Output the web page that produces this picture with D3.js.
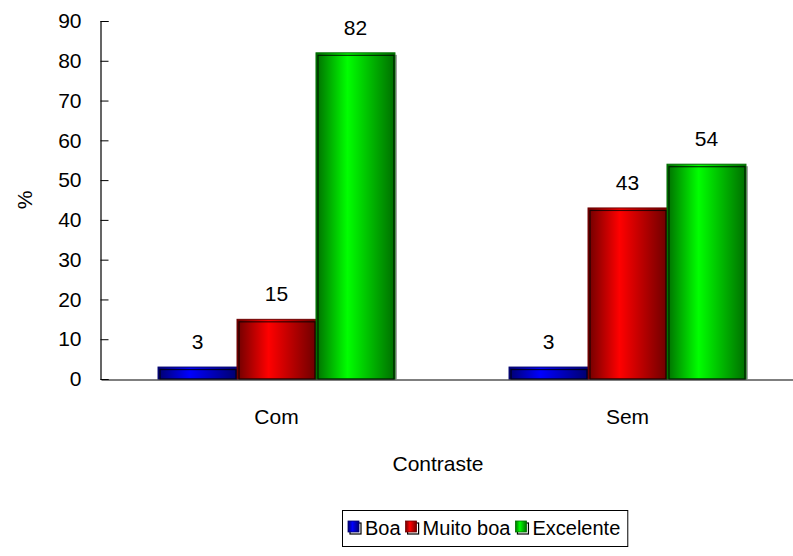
<!DOCTYPE html>
<html>
<head>
<meta charset="utf-8">
<script src="https://cdn.jsdelivr.net/npm/d3@7"></script>
<style>
  html, body { margin: 0; padding: 0; background: #fff; }
  svg { display: block; font-family: "Liberation Sans", Arial, sans-serif; }
</style>
</head>
<body>
<svg id="chart" width="793" height="556"></svg>
<script>
// Avaliação por contraste (%)
const categories = ["Com", "Sem"];
const seriesNames = ["Boa", "Muito boa", "Excelente"];
const boa = [3, 3];
const muitoBoa = [15, 43];
const excelente = [82, 54];
const yTicks = [0, 10, 20, 30, 40, 50, 60, 70, 80, 90];
const xTitle = "Contraste";
const yTitle = "%";

const seriesValues = [boa, muitoBoa, excelente];
const palette = [
  { dark: "#00006e", mid: "#0000ff", name: "blue" },
  { dark: "#6e0000", mid: "#ff0000", name: "red" },
  { dark: "#006e00", mid: "#00ff00", name: "green" }
];

const FS = 21;
const svg = d3.select("#chart");
const plot = { left: 101, right: 803, top: 21, bottom: 379 };

// Gradients giving each bar its rounded, lit look
const defs = svg.append("defs");
palette.forEach(p => {
  const g = defs.append("linearGradient")
    .attr("id", "grad-" + p.name)
    .attr("x1", "0%").attr("x2", "100%").attr("y1", "0%").attr("y2", "0%");
  g.append("stop").attr("offset", "0%").attr("stop-color", p.dark);
  g.append("stop").attr("offset", "40%").attr("stop-color", p.mid);
  g.append("stop").attr("offset", "100%").attr("stop-color", p.dark);
});

const x0 = d3.scaleBand()
  .domain(categories)
  .range([plot.left, plot.right])
  .paddingInner(0.325)
  .paddingOuter(0.1625);

const x1 = d3.scaleBand()
  .domain(seriesNames)
  .range([0, x0.bandwidth()]);

const y = d3.scaleLinear()
  .domain([0, 90])
  .range([plot.bottom, plot.top]);

// Bars
const rows = [];
categories.forEach((c, ci) => {
  seriesNames.forEach((s, si) => {
    rows.push({ cat: c, series: s, si, value: seriesValues[si][ci] });
  });
});

const bars = svg.append("g").attr("class", "bars");

// grey shadow on the right side of each bar
bars.selectAll("rect.shadow")
  .data(rows)
  .join("rect")
  .attr("class", "shadow")
  .attr("x", d => x0(d.cat) + x1(d.series) + 2)
  .attr("y", d => y(d.value) + 2)
  .attr("width", x1.bandwidth())
  .attr("height", d => plot.bottom - y(d.value) - 2)
  .attr("fill", "#a0a0a0");

bars.selectAll("rect.bar")
  .data(rows)
  .join("rect")
  .attr("class", "bar")
  .attr("x", d => x0(d.cat) + x1(d.series))
  .attr("y", d => y(d.value))
  .attr("width", x1.bandwidth())
  .attr("height", d => plot.bottom - y(d.value))
  .attr("fill", d => `url(#grad-${palette[d.si].name})`)
  .attr("stroke", d => palette[d.si].dark)
  .attr("stroke-width", 1);

// dark inner rim
bars.selectAll("rect.rim")
  .data(rows)
  .join("rect")
  .attr("class", "rim")
  .attr("x", d => x0(d.cat) + x1(d.series) + 2)
  .attr("y", d => y(d.value) + 2.5)
  .attr("width", x1.bandwidth() - 3)
  .attr("height", d => Math.max(0, plot.bottom - y(d.value) - 2.5))
  .attr("fill", "none")
  .attr("stroke", "#000")
  .attr("stroke-opacity", 0.75)
  .attr("stroke-width", 1.2);

// Value labels
svg.append("g").selectAll("text")
  .data(rows)
  .join("text")
  .attr("x", d => x0(d.cat) + x1(d.series) + x1.bandwidth() / 2)
  .attr("y", d => y(d.value) - 18)
  .attr("text-anchor", "middle")
  .attr("font-size", FS)
  .attr("fill", "#000")
  .text(d => d.value);

// Y axis with ticks pointing into the plot
const yAxis = d3.axisLeft(y)
  .tickValues(yTicks)
  .tickSize(-8)
  .tickPadding(19)
  .tickFormat(d3.format("d"));

const yg = svg.append("g")
  .attr("transform", `translate(${plot.left - 0.5},0)`)
  .call(yAxis);
yg.select(".domain").attr("stroke", "#000").attr("stroke-width", 1.2);
yg.selectAll(".tick line").attr("stroke", "#000");
yg.selectAll(".tick text")
  .attr("font-size", FS)
  .attr("font-family", "Liberation Sans, Arial, sans-serif")
  .attr("fill", "#000");

// X axis baseline and category labels
const xAxis = d3.axisBottom(x0).tickSize(0).tickPadding(30);
const xg = svg.append("g")
  .attr("transform", `translate(0,${plot.bottom + 0.5})`)
  .call(xAxis);
xg.select(".domain").attr("stroke", "#000").attr("stroke-width", 1.2);
xg.selectAll(".tick text")
  .attr("font-size", FS)
  .attr("font-family", "Liberation Sans, Arial, sans-serif")
  .attr("fill", "#000");

// Axis titles
svg.append("text")
  .attr("x", 438)
  .attr("y", 471)
  .attr("text-anchor", "middle")
  .attr("font-size", FS)
  .text(xTitle);

svg.append("text")
  .attr("transform", "translate(32,200) rotate(-90)")
  .attr("text-anchor", "middle")
  .attr("font-size", FS)
  .text(yTitle);

// Legend, laid out from the measured label widths
const legend = svg.append("g");
const box = legend.append("rect")
  .attr("fill", "#fff")
  .attr("stroke", "#000")
  .attr("stroke-width", 1);

const items = legend.selectAll("g.item")
  .data(seriesNames)
  .join("g")
  .attr("class", "item");

items.append("rect")
  .attr("x", 2).attr("y", 2)
  .attr("width", 11).attr("height", 11)
  .attr("fill", "none")
  .attr("stroke", "#000")
  .attr("stroke-width", 1.2);
items.append("rect")
  .attr("x", 0).attr("y", 0)
  .attr("width", 11).attr("height", 11)
  .attr("fill", (d, i) => `url(#grad-${palette[i].name})`)
  .attr("stroke", (d, i) => palette[i].dark)
  .attr("stroke-width", 0.8);
items.append("text")
  .attr("x", 17)
  .attr("y", 14)
  .attr("font-size", FS - 1)
  .text(d => d);

let cursor = 6;
items.each(function () {
  const g = d3.select(this);
  g.attr("transform", `translate(${cursor},11)`);
  cursor += 17 + g.select("text").node().getComputedTextLength() + 5;
});
const boxW = cursor + 2;
const boxX = Math.round(485 - boxW / 2);
legend.attr("transform", `translate(${boxX},510)`);
box.attr("x", 0.5).attr("y", 0.5).attr("width", boxW).attr("height", 36);
</script>
</body>
</html>
